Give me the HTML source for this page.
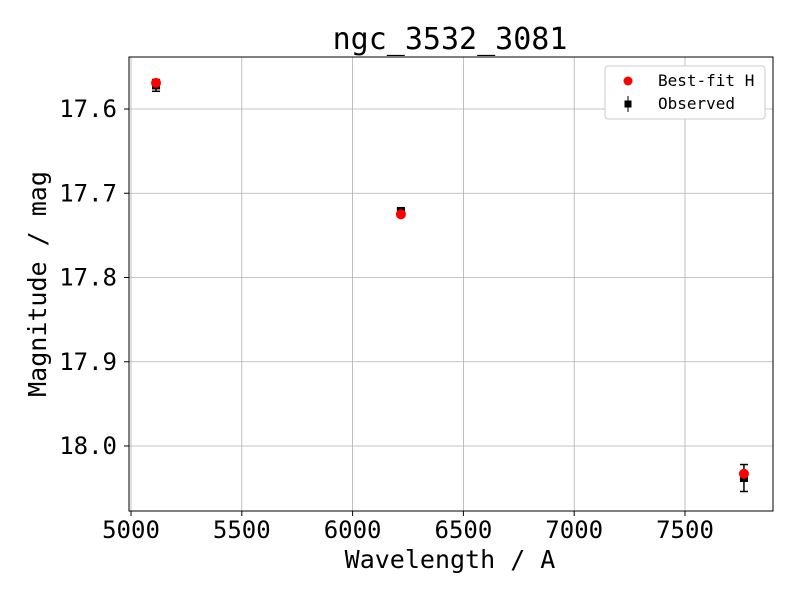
<!DOCTYPE html>
<html><head><meta charset="utf-8"><style>body{margin:0;background:#fff}svg{font-family:"DejaVu Sans Mono","Liberation Mono",monospace}</style></head>
<body>
<svg width="800" height="600" xmlns="http://www.w3.org/2000/svg">
<g id="grid"></g>
<g id="marks"></g>
<rect x="129" y="57" width="644" height="454" fill="none" stroke="#000" stroke-width="1"/>
<g id="ticks"></g>
<text x="450" y="49" font-size="30" text-anchor="middle">ngc_3532_3081</text>
<text x="450" y="568" font-size="25" text-anchor="middle">Wavelength / A</text>
<text transform="translate(46,284) rotate(-90)" font-size="25" text-anchor="middle">Magnitude / mag</text>
<g>
<rect x="605" y="66" width="160" height="53" rx="3" fill="#fff" stroke="#ccc"/>
<circle cx="628" cy="81" r="4.5" fill="red"/>
<text x="658" y="86" font-size="16">Best-fit H</text>
<line x1="628" y1="96" x2="628" y2="112" stroke="#000"/>
<rect x="624.5" y="100.5" width="7" height="7" fill="#000"/>
<text x="658" y="109" font-size="16">Observed</text>
</g>
</svg>
<script>
const wavelengths=[5113,6218,7766];
const observed=[17.572,17.721,18.038];
const observedErr=[0.007,0.003,0.016];
const bestFit=[17.569,17.725,18.033];
const xTicks=[5000,5500,6000,6500,7000,7500];
const yTicks=[17.6,17.7,17.8,17.9,18.0];
const NS="http://www.w3.org/2000/svg";
function X(v){return 131+(v-5000)*110.8/500;}
function Y(v){return 109+(v-17.6)*842.5;}
function mk(t,a,p){const e=document.createElementNS(NS,t);for(const k in a)e.setAttribute(k,a[k]);p.appendChild(e);return e;}
const g=document.getElementById('grid'),m=document.getElementById('marks'),tk=document.getElementById('ticks');
xTicks.forEach(v=>{const x=X(v);
let l=mk('line',{x1:x,x2:x,y1:57,y2:511,stroke:'#b0b0b0','stroke-width':0.8},g);


let t=mk('line',{x1:x,x2:x,y1:511,y2:516,stroke:'#000'},tk);


let s=mk('text',{x:x,y:538,'font-size':24,'text-anchor':'middle'},tk);s.textContent=v;

});
yTicks.forEach(v=>{const y=Y(v);
let l=mk('line',{x1:129,x2:773,y1:y,y2:y,stroke:'#b0b0b0','stroke-width':0.8},g);


let t=mk('line',{x1:124,x2:129,y1:y,y2:y,stroke:'#000'},tk);


let s=mk('text',{x:117,y:y+8,'font-size':24,'text-anchor':'end'},tk);s.textContent=v.toFixed(1);

});
wavelengths.forEach((w,i)=>{const x=X(w),y=Y(observed[i]),y1=Y(observed[i]-observedErr[i]),y2=Y(observed[i]+observedErr[i]);
const grp=mk('g',{},m);


mk('line',{x1:x,x2:x,y1:y1,y2:y2,stroke:'#000','stroke-width':1.5},grp);
mk('line',{x1:x-4,x2:x+4,y1:y1,y2:y1,stroke:'#000','stroke-width':1.5},grp);
mk('line',{x1:x-4,x2:x+4,y1:y2,y2:y2,stroke:'#000','stroke-width':1.5},grp);
mk('rect',{x:x-4,y:y-4,width:8,height:8,fill:'#000'},grp);});
wavelengths.forEach((w,i)=>{let c=mk('circle',{cx:X(w),cy:Y(bestFit[i]),r:5,fill:'red'},m);

});
</script>
</body></html>
